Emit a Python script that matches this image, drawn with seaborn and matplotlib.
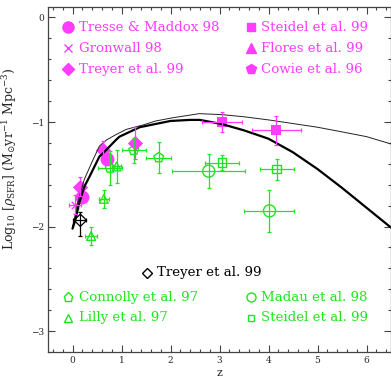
import matplotlib
matplotlib.use("Agg")
import matplotlib.pyplot as plt
import seaborn as sns
import pandas as pd
import numpy as np

# ---------------- data ----------------
# model curves
thin_z = [0.0, 0.05, 0.1, 0.24, 0.4, 0.55, 0.7, 0.89, 1.1, 1.43, 1.7, 2.04, 2.59, 3.06, 3.5, 4.0, 4.43, 5.0, 5.45, 6.0, 6.5]
thin_y = [-2.0, -1.9, -1.78, -1.55, -1.38, -1.23, -1.17, -1.12, -1.07, -1.03, -0.99, -0.96, -0.92, -0.93, -0.95, -0.98, -1.01, -1.05, -1.09, -1.14, -1.21]
thick_z = [0.0, 0.05, 0.14, 0.24, 0.35, 0.55, 0.62, 0.89, 0.96, 1.37, 2.0, 2.4, 2.6, 3.05, 3.5, 4.0, 4.5, 5.0, 5.5, 6.0, 6.5]
thick_y = [-2.02, -1.95, -1.77, -1.62, -1.52, -1.33, -1.30, -1.17, -1.14, -1.05, -0.99, -0.98, -0.98, -1.02, -1.08, -1.16, -1.29, -1.45, -1.63, -1.82, -2.01]

# magenta (filled) points
tresse_z = [0.2, 0.71]
tresse_y = [-1.72, -1.35]
gron_z = [0.05]
gron_y = [-1.79]
gron_xerr = [0.12]
gron_yerr = [0.09]
treyerm_z = [0.15, 0.62, 1.27]
treyerm_y = [-1.62, -1.27, -1.20]
treyerm_yerr = [0.09, 0.09, 0.15]
steidm_z = [3.05, 4.16]
steidm_y = [-1.00, -1.08]
steidm_xerr = [0.41, 0.50]
steidm_yerr = [0.10, 0.14]

# black open diamond
treyerb_z = [0.16]
treyerb_y = [-1.94]
treyerb_xerr = [[0.14], [0.12]]
treyerb_yerr = [[0.15], [0.08]]

# green (open) points
conn_z = [0.77, 1.25, 1.76]
conn_y = [-1.44, -1.27, -1.34]
conn_xerr = [0.25, 0.25, 0.25]
conn_yerr = [0.16, 0.12, 0.15]
lilly_z = [0.38, 0.64, 0.90]
lilly_y = [-2.09, -1.735, -1.425]
lilly_xerr = [0.12, 0.10, 0.09]
lilly_yerr = [0.09, 0.085, 0.16]
madau_z = [2.78, 4.02]
madau_y = [-1.47, -1.85]
madau_xerr = [0.75, 0.51]
madau_yerr = [0.16, 0.20]
steidg_z = [3.05, 4.17]
steidg_y = [-1.39, -1.45]
steidg_xerr = [0.35, 0.35]
steidg_yerr = [0.07, 0.10]

# legend entries
mag_left = ["Tresse & Maddox 98", "Gronwall 98", "Treyer et al. 99"]
mag_right = ["Steidel et al. 99", "Flores et al. 99", "Cowie et al. 96"]
blk_label = "Treyer et al. 99"
grn_left = ["Connolly et al. 97", "Lilly et al. 97"]
grn_right = ["Madau et al. 98", "Steidel et al. 99"]

MAG = "#ff3cff"
GRN = "#1ee61e"

# ---------------- figure ----------------
sns.set_style("ticks")
plt.rcParams["font.family"] = ["DejaVu Serif"]
plt.rcParams["mathtext.fontset"] = "dejavuserif"

fig = plt.figure(figsize=(3.91, 3.76), dpi=100)
ax = fig.add_axes([48/391, 24/376, 343/391, 345/376])

curves = pd.concat([
    pd.DataFrame({"z": thin_z, "y": thin_y, "model": "thin"}),
    pd.DataFrame({"z": thick_z, "y": thick_y, "model": "thick"}),
])
sns.lineplot(data=curves, x="z", y="y", hue="model", size="model",
             palette={"thin": "#222222", "thick": "black"},
             sizes={"thin": 0.7, "thick": 1.6}, sort=False,
             estimator=None, legend=False, ax=ax)

ekw = dict(fmt="none", elinewidth=0.9, capsize=1.5, capthick=0.9)

# green error bars + markers
ax.errorbar(conn_z, conn_y, xerr=conn_xerr, yerr=conn_yerr, ecolor=GRN, **ekw)
ax.errorbar(lilly_z, lilly_y, xerr=lilly_xerr, yerr=lilly_yerr, ecolor=GRN, **ekw)
ax.errorbar(madau_z, madau_y, xerr=madau_xerr, yerr=madau_yerr, ecolor=GRN, **ekw)
ax.errorbar(steidg_z, steidg_y, xerr=steidg_xerr, yerr=steidg_yerr, ecolor=GRN, **ekw)
sns.scatterplot(x=conn_z, y=conn_y, marker="p", s=55, facecolors="none", edgecolor=GRN, linewidth=1.0, ax=ax)
sns.scatterplot(x=lilly_z, y=lilly_y, marker="^", s=40, facecolors="none", edgecolor=GRN, linewidth=1.0, ax=ax)
sns.scatterplot(x=madau_z, y=madau_y, marker="o", s=75, facecolors="none", edgecolor=GRN, linewidth=1.0, ax=ax)
sns.scatterplot(x=steidg_z, y=steidg_y, marker="s", s=40, facecolors="none", edgecolor=GRN, linewidth=1.0, ax=ax)

# black
ax.errorbar(treyerb_z, treyerb_y, xerr=treyerb_xerr, yerr=treyerb_yerr, ecolor="black", **ekw)
sns.scatterplot(x=treyerb_z, y=treyerb_y, marker="D", s=40, facecolors="none", edgecolor="black", linewidth=0.9, ax=ax)

# magenta
ax.errorbar(gron_z, gron_y, xerr=gron_xerr, yerr=gron_yerr, ecolor=MAG, **ekw)
ax.errorbar(treyerm_z, treyerm_y, yerr=treyerm_yerr, ecolor=MAG, **ekw)
ax.errorbar(steidm_z, steidm_y, xerr=steidm_xerr, yerr=steidm_yerr, ecolor=MAG, **ekw)
sns.scatterplot(x=tresse_z, y=tresse_y, marker="o", s=100, color=MAG, edgecolor=MAG, linewidth=0, ax=ax)
sns.scatterplot(x=gron_z, y=gron_y, marker="x", s=30, color=MAG, linewidth=1.0, ax=ax)
sns.scatterplot(x=treyerm_z, y=treyerm_y, marker="D", s=60, color=MAG, edgecolor=MAG, linewidth=0, ax=ax)
sns.scatterplot(x=steidm_z, y=steidm_y, marker="s", s=55, color=MAG, edgecolor=MAG, linewidth=0, ax=ax)

# ---------------- legend (manual) ----------------
fs = 9.6
def entry(xm, xt, y, marker, label, color, filled, ms):
    ax.plot([xm], [y], marker=marker, ms=ms, transform=ax.transAxes, clip_on=False,
            mfc=color if filled else "none", mec=color, mew=1.0, ls="none")
    ax.text(xt, y, label, color=color, fontsize=fs, va="center", ha="left",
            transform=ax.transAxes)

ys_top = [0.942, 0.881, 0.820]
for yv, lab, mk, ms in zip(ys_top, mag_left, ["o", "x", "D"], [8, 6, 6]):
    entry(0.058, 0.090, yv, mk, lab, MAG, True, ms)
for yv, lab, mk, ms in zip(ys_top, mag_right, ["s", "^", "p"], [6, 6.5, 7]):
    entry(0.592, 0.621, yv, mk, lab, MAG, True, ms)
entry(0.289, 0.318, 0.229, "D", blk_label, "black", False, 5.5)
for yv, lab, mk, ms in zip([0.159, 0.099], grn_left, ["p", "^"], [6.5, 6]):
    entry(0.058, 0.090, yv, mk, lab, GRN, False, ms)
for yv, lab, mk, ms in zip([0.159, 0.099], grn_right, ["o", "s"], [6.5, 5]):
    entry(0.592, 0.621, yv, mk, lab, GRN, False, ms)

# ---------------- axes ----------------
ax.set_xlim(-0.5, 6.5)
ax.set_ylim(-3.2, 0.1)
ax.set_xticks([0, 1, 2, 3, 4, 5, 6])
ax.set_yticks([0, -1, -2, -3])
ax.set_xticks(np.arange(-0.4, 6.5, 0.2), minor=True)
ax.set_yticks(np.arange(-3.2, 0.1, 0.2), minor=True)
ax.tick_params(which="both", direction="in", top=True, right=True, labelsize=6.5,
               color="#444444", width=0.8, pad=3)
ax.tick_params(which="major", length=5)
ax.tick_params(which="minor", length=2.5)
for sp in ax.spines.values():
    sp.set_linewidth(0.9)
    sp.set_color("#444444")

ax.set_xlabel("z", fontsize=8)
ax.xaxis.set_label_coords(0.5, -0.045)
ax.set_ylabel(r"Log$_{10}$ [$\rho_{\rm SFR}$] (M$_{\odot}$yr$^{-1}$ Mpc$^{-3}$)", fontsize=9)
ax.yaxis.set_label_coords(-0.085, 0.56)

fig.savefig("out.png", dpi=100)
